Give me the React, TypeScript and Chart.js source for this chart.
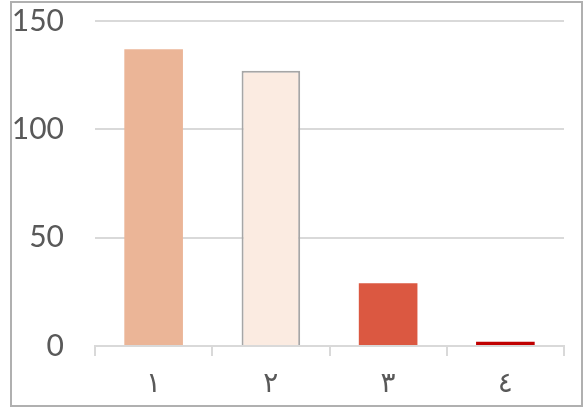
import React, { useEffect, useRef } from "react";
import { Chart, registerables } from "chart.js";
Chart.register(...registerables);

const categories = ["١", "٢", "٣", "٤"];
const values = [137, 127, 29, 2];
const barColors = ["#EBB597", "#FBEBE1", "#DB5841", "#C00000"];
const barBorders = ["#EBB597", "#A6A6A6", "#DB5841", "#C00000"];
const yTicks = [0, 50, 100, 150];

export default function App() {
  const ref = useRef<HTMLCanvasElement>(null);
  useEffect(() => {
    const font = { family: "Lato, 'DejaVu Sans', sans-serif", size: 30 };
    const chart = new Chart(ref.current!, {
      type: "bar",
      data: {
        labels: categories,
        datasets: [
          {
            data: values,
            backgroundColor: barColors,
            borderColor: barBorders,
            borderWidth: [0, 2, 0, 0],
            categoryPercentage: 0.5,
            barPercentage: 1,
          },
        ],
      },
      options: {
        animation: false,
        responsive: false,
        maintainAspectRatio: false,
        layout: { padding: { top: 21, right: 20, left: 0, bottom: 0 } },
        plugins: { legend: { display: false }, tooltip: { enabled: false } },
        scales: {
          x: {
            offset: true,
            grid: {
              offset: true,
              drawOnChartArea: false,
              drawTicks: true,
              tickLength: 10,
              color: "#D9D9D9",
              lineWidth: 2,
            },
            border: { display: true, color: "#D9D9D9", width: 2 },
            ticks: { color: "#595959", font: { ...font, size: 28 }, padding: 10 },
            afterFit: (s: any) => {
              s.height = 65;
              s.paddingLeft = 0;
              s.paddingRight = 0;
            },
          },
          y: {
            min: 0,
            max: 150,
            afterBuildTicks: (s: any) => {
              s.ticks = yTicks.map((v) => ({ value: v }));
            },
            grid: { color: "#D9D9D9", lineWidth: 2, drawTicks: false },
            border: { display: false },
            ticks: { color: "#595959", font, padding: 31 },
            afterFit: (s: any) => {
              s.width = 95;
              s.paddingTop = 0;
              s.paddingBottom = 0;
            },
          },
        },
      },
    });
    return () => chart.destroy();
  }, []);
  return (
    <div style={{ position: "absolute", left: 0, top: 0, width: 584, height: 411, background: "#fff" }}>
      <canvas ref={ref} width={584} height={411} style={{ position: "absolute", left: 0, top: 0 }} />
      <div
        style={{
          position: "absolute",
          left: 10,
          top: 1,
          width: 573,
          height: 406,
          border: "2px solid #B0B0B0",
          boxSizing: "border-box",
          pointerEvents: "none",
        }}
      />
    </div>
  );
}
